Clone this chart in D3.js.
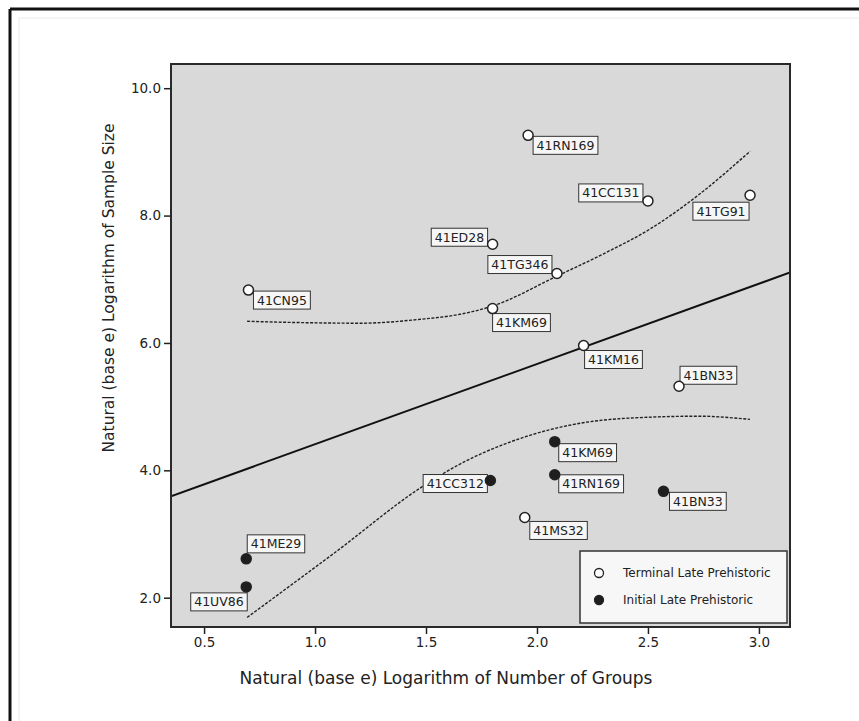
<!DOCTYPE html>
<html>
<head>
<meta charset="utf-8">
<script src="https://cdn.jsdelivr.net/npm/d3@7/dist/d3.min.js"></script>
<style>
  html, body { margin: 0; padding: 0; background: #ffffff; }
  svg { display: block; }
  text { font-family: "DejaVu Sans", "Noto Sans", sans-serif; fill: #222; }
</style>
</head>
<body>
<svg id="chart" width="859" height="721"></svg>
<script>
// Sites from the Terminal Late Prehistoric period (open circles)
const terminalNames = ["41RN169", "41CC131", "41TG91", "41ED28", "41TG346", "41KM69", "41KM16", "41BN33", "41CN95", "41MS32"];
const terminalX = [1.96, 2.50, 2.96, 1.80, 2.09, 1.80, 2.21, 2.64, 0.70, 1.945];
const terminalY = [9.26, 8.23, 8.32, 7.55, 7.09, 6.54, 5.96, 5.32, 6.83, 3.26];

// Sites from the Initial Late Prehistoric period (filled circles)
const initialNames = ["41KM69", "41RN169", "41BN33", "41CC312", "41ME29", "41UV86"];
const initialX = [2.08, 2.08, 2.57, 1.79, 0.69, 0.69];
const initialY = [4.45, 3.93, 3.67, 3.84, 2.61, 2.17];

// Linear fit: ln(sample size) = intercept + slope * ln(groups)
const fitIntercept = 3.15;
const fitSlope = 1.26;

// Upper and lower dotted envelope curves
const upperBandX = [0.694, 0.93, 1.20, 1.47, 1.653, 1.80, 2.09, 2.30, 2.51, 2.73, 2.96];
const upperBandY = [6.34, 6.32, 6.31, 6.37, 6.45, 6.58, 7.05, 7.40, 7.79, 8.33, 9.01];
const lowerBandX = [0.694, 1.09, 1.486, 1.676, 1.86, 2.06, 2.37, 2.73, 2.96];
const lowerBandY = [1.69, 2.71, 3.75, 4.14, 4.42, 4.64, 4.81, 4.85, 4.80];

const xTicks = [0.5, 1.0, 1.5, 2.0, 2.5, 3.0];
const yTicks = [2.0, 4.0, 6.0, 8.0, 10.0];

const xTitle = "Natural (base e) Logarithm of Number of Groups";
const yTitle = "Natural (base e) Logarithm of Sample Size";
const legendLabels = ["Terminal Late Prehistoric", "Initial Late Prehistoric"];

// ---- layout ----
const svg = d3.select("#chart");
const plot = { left: 171, top: 64, right: 790, bottom: 627 };

const x = d3.scaleLinear().domain([0.351, 3.14]).range([plot.left, plot.right]);
const y = d3.scaleLinear().domain([1.54, 10.38]).range([plot.bottom, plot.top]);

// outer page frame (top and left rules)
svg.append("line").attr("x1", 10).attr("x2", 859).attr("y1", 9).attr("y2", 9)
  .attr("stroke", "#111").attr("stroke-width", 3);
svg.append("line").attr("x1", 10).attr("x2", 10).attr("y1", 9).attr("y2", 721)
  .attr("stroke", "#111").attr("stroke-width", 3);
svg.append("rect").attr("x", 19).attr("y", 18).attr("width", 845).attr("height", 710)
  .attr("fill", "none").attr("stroke", "#ececec").attr("stroke-width", 1);

// plot background
svg.append("rect")
  .attr("x", plot.left).attr("y", plot.top)
  .attr("width", plot.right - plot.left).attr("height", plot.bottom - plot.top)
  .attr("fill", "#d9d9d9");

svg.append("clipPath").attr("id", "plotClip").append("rect")
  .attr("x", plot.left).attr("y", plot.top)
  .attr("width", plot.right - plot.left).attr("height", plot.bottom - plot.top);

const g = svg.append("g").attr("clip-path", "url(#plotClip)");

// dotted envelope curves
const bandLine = d3.line().x(d => x(d[0])).y(d => y(d[1])).curve(d3.curveMonotoneX);
[[upperBandX, upperBandY], [lowerBandX, lowerBandY]].forEach(([bx, by]) => {
  g.append("path")
    .attr("d", bandLine(bx.map((v, i) => [v, by[i]])))
    .attr("fill", "none").attr("stroke", "#222").attr("stroke-width", 1.4)
    .attr("stroke-dasharray", "3,1.5");
});

// regression line across the whole plot
const [x0, x1] = x.domain();
g.append("line")
  .attr("x1", x(x0)).attr("y1", y(fitIntercept + fitSlope * x0))
  .attr("x2", x(x1)).attr("y2", y(fitIntercept + fitSlope * x1))
  .attr("stroke", "#111").attr("stroke-width", 2);

// label box placement: [dx, dy, corner of the box anchored at the point]
const labelPlacement = {
  "T:41RN169": [5, 1, "tl"], "T:41CC131": [-5, 1, "br"], "T:41TG91": [-1, 7, "tr"],
  "T:41ED28": [-5, 2, "br"], "T:41TG346": [-5, 0, "br"], "T:41KM69": [0, 5, "tl"],
  "T:41KM16": [1, 5, "tl"], "T:41BN33": [1, -2, "bl"], "T:41CN95": [5, 1, "tl"],
  "T:41MS32": [5, 4, "tl"],
  "I:41KM69": [4, 2, "tl"], "I:41RN169": [4, 0, "tl"], "I:41BN33": [6, 1, "tl"],
  "I:41CC312": [-3, -6, "tr"], "I:41ME29": [1, -6, "bl"], "I:41UV86": [1, 6, "tr"]
};

const points = [];
terminalNames.forEach((n, i) => points.push({ key: "T:" + n, name: n, x: terminalX[i], y: terminalY[i], filled: false }));
initialNames.forEach((n, i) => points.push({ key: "I:" + n, name: n, x: initialX[i], y: initialY[i], filled: true }));

// labels
const labelG = svg.append("g");
points.forEach(p => {
  const px = x(p.x), py = y(p.y);
  const [dx, dy, corner] = labelPlacement[p.key];
  const grp = labelG.append("g");
  const t = grp.append("text").text(p.name).attr("font-size", 12.5).attr("x", 0).attr("y", 0);
  const w = t.node().getComputedTextLength() + 7;
  const h = 18;
  let bx = px + dx, by = py + dy;
  if (corner[1] === "r") bx -= w;
  if (corner[0] === "b") by -= h;
  grp.insert("rect", "text")
    .attr("x", bx).attr("y", by).attr("width", w).attr("height", h)
    .attr("fill", "#f6f6f6").attr("stroke", "#333").attr("stroke-width", 1);
  t.attr("x", bx + 3.5).attr("y", by + 13.5);
});

// points
svg.append("g").selectAll("circle").data(points).join("circle")
  .attr("cx", d => x(d.x)).attr("cy", d => y(d.y))
  .attr("r", 5)
  .attr("fill", d => d.filled ? "#1e1e1e" : "#ffffff")
  .attr("stroke", "#222").attr("stroke-width", 1.5);

// legend
const lg = svg.append("g");
lg.append("rect").attr("x", 580).attr("y", 551).attr("width", 207).attr("height", 72)
  .attr("fill", "#f7f7f7").attr("stroke", "#333").attr("stroke-width", 1.5);
legendLabels.forEach((lab, i) => {
  const cy = 573 + i * 27;
  lg.append("circle").attr("cx", 599).attr("cy", cy).attr("r", 4.5)
    .attr("fill", i === 0 ? "#ffffff" : "#1e1e1e").attr("stroke", "#222").attr("stroke-width", 1.3);
  lg.append("text").attr("x", 623).attr("y", cy + 4).attr("font-size", 12).text(lab);
});

// plot frame
svg.append("rect")
  .attr("x", plot.left).attr("y", plot.top)
  .attr("width", plot.right - plot.left).attr("height", plot.bottom - plot.top)
  .attr("fill", "none").attr("stroke", "#2a2a2a").attr("stroke-width", 2);

// axes
const xAxis = svg.append("g").attr("transform", `translate(0,${plot.bottom})`)
  .call(d3.axisBottom(x).tickValues(xTicks).tickFormat(d3.format(".1f")).tickSize(7).tickPadding(3));
const yAxis = svg.append("g").attr("transform", `translate(${plot.left},0)`)
  .call(d3.axisLeft(y).tickValues(yTicks).tickFormat(d3.format(".1f")).tickSize(7).tickPadding(3));
[xAxis, yAxis].forEach(a => {
  a.select(".domain").remove();
  a.selectAll(".tick line").attr("stroke", "#222").attr("stroke-width", 1.5);
  a.selectAll(".tick text").attr("font-size", 13.5).attr("fill", "#333")
    .style("font-family", '"DejaVu Sans", sans-serif');
});

// axis titles
svg.append("text").attr("x", 446).attr("y", 684).attr("text-anchor", "middle")
  .attr("font-size", 17).attr("fill", "#222").text(xTitle);
svg.append("text").attr("transform", "translate(114,288) rotate(-90)")
  .attr("text-anchor", "middle").attr("font-size", 15.5).attr("fill", "#222").text(yTitle);
</script>
</body>
</html>
